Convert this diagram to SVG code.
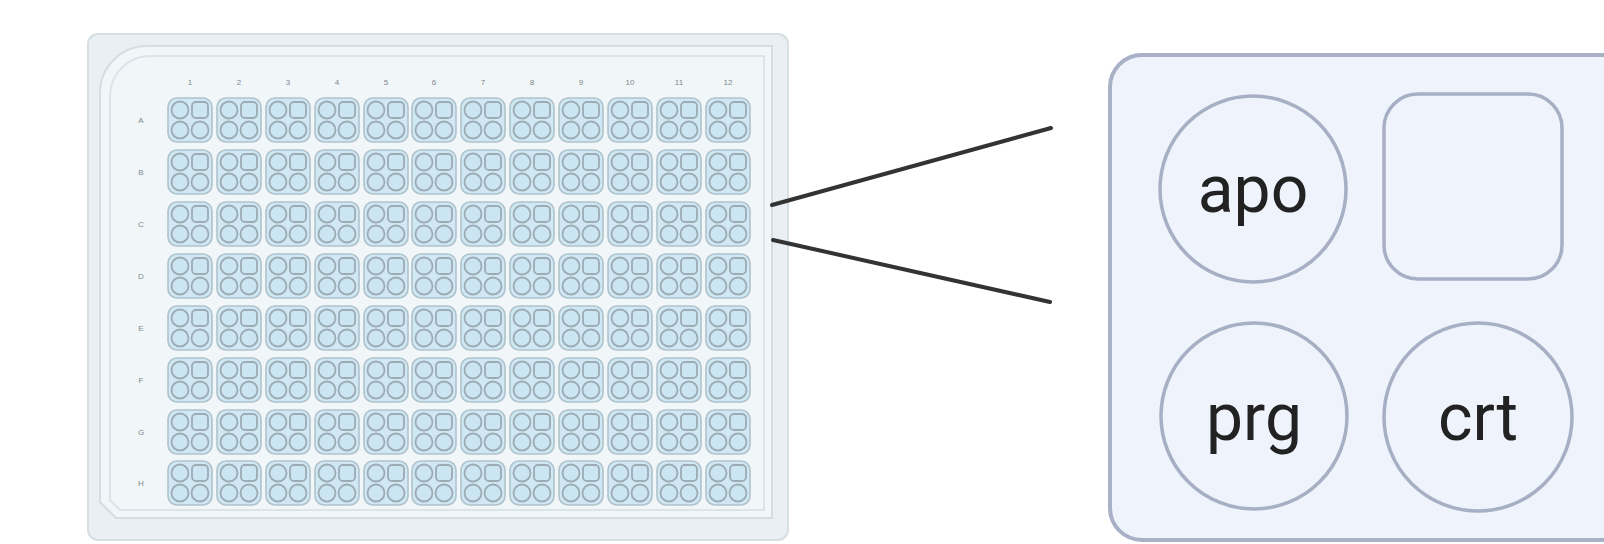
<svg xmlns="http://www.w3.org/2000/svg" xmlns:xlink="http://www.w3.org/1999/xlink" width="1604" height="544" viewBox="0 0 1604 544">
  <style>
    .plate-wall { fill: #e9eff2; stroke: #d6dfe3; stroke-width: 2; }
    .plate-deck { fill: #f1f6f8; stroke: #d3dde2; stroke-width: 2; }
    .plate-inner { fill: none; stroke: #dbe4e8; stroke-width: 2; }
    .well { fill: #cfe8f3; stroke: #b0c2cb; stroke-width: 1.6; }
    .mini { fill: #cbe6f2; stroke: #9cabb4; stroke-width: 1.8; }
    .idx { font-family: "Liberation Sans", Arial, sans-serif; font-size: 8px; fill: #7d878c; text-anchor: middle; }
    .link { fill: none; stroke: #333333; stroke-width: 4; stroke-linecap: round; }
    .panel { fill: #eef3fc; stroke: #a9b1c6; stroke-width: 4; }
    .slot { fill: #eef3fc; stroke: #a6afc3; stroke-width: 3.5; }
    .label { font-family: Roboto, "Liberation Sans", Arial, sans-serif; font-size: 66px; fill: #222222; text-anchor: middle; }
  </style>
  <defs>
    <!-- a single well: rounded cell holding a 2x2 set of compartments -->
    <g id="well">
      <rect class="well" x="-22" y="-22" width="44" height="44" rx="9"/>
      <circle class="mini" cx="-10" cy="-10" r="8.5"/>
      <rect class="mini" x="2" y="-18" width="16" height="16" rx="4"/>
      <circle class="mini" cx="-10" cy="10" r="8.5"/>
      <circle class="mini" cx="10" cy="10" r="8.5"/>
    </g>
  </defs>

  <rect width="1604" height="544" fill="#ffffff"/>

  <!-- 96-well plate -->
  <g id="plate">
    <rect class="plate-wall" x="88" y="34" width="700" height="506" rx="10"/>
    <path class="plate-deck" d="M147 46 H772 V518 H116 L100 502 V93 A47 47 0 0 1 147 46 Z"/>
    <path class="plate-inner" d="M150 56 H764 V510 H120 L110 500 V96 A40 40 0 0 1 150 56 Z"/>
    <g id="col-labels">
      <text class="idx" x="190" y="85">1</text>
      <text class="idx" x="239" y="85">2</text>
      <text class="idx" x="288" y="85">3</text>
      <text class="idx" x="337" y="85">4</text>
      <text class="idx" x="386" y="85">5</text>
      <text class="idx" x="434" y="85">6</text>
      <text class="idx" x="483" y="85">7</text>
      <text class="idx" x="532" y="85">8</text>
      <text class="idx" x="581" y="85">9</text>
      <text class="idx" x="630" y="85">10</text>
      <text class="idx" x="679" y="85">11</text>
      <text class="idx" x="728" y="85">12</text>
    </g>
    <g id="row-labels">
      <text class="idx" x="141" y="123">A</text>
      <text class="idx" x="141" y="175">B</text>
      <text class="idx" x="141" y="227">C</text>
      <text class="idx" x="141" y="279">D</text>
      <text class="idx" x="141" y="331">E</text>
      <text class="idx" x="141" y="383">F</text>
      <text class="idx" x="141" y="435">G</text>
      <text class="idx" x="141" y="486">H</text>
    </g>
    <g id="wells">
      <g id="row-A" transform="translate(0,120)">
        <use xlink:href="#well" x="190"/><use xlink:href="#well" x="239"/><use xlink:href="#well" x="288"/><use xlink:href="#well" x="337"/><use xlink:href="#well" x="386"/><use xlink:href="#well" x="434"/><use xlink:href="#well" x="483"/><use xlink:href="#well" x="532"/><use xlink:href="#well" x="581"/><use xlink:href="#well" x="630"/><use xlink:href="#well" x="679"/><use xlink:href="#well" x="728"/>
      </g>
      <g id="row-B" transform="translate(0,172)">
        <use xlink:href="#well" x="190"/><use xlink:href="#well" x="239"/><use xlink:href="#well" x="288"/><use xlink:href="#well" x="337"/><use xlink:href="#well" x="386"/><use xlink:href="#well" x="434"/><use xlink:href="#well" x="483"/><use xlink:href="#well" x="532"/><use xlink:href="#well" x="581"/><use xlink:href="#well" x="630"/><use xlink:href="#well" x="679"/><use xlink:href="#well" x="728"/>
      </g>
      <g id="row-C" transform="translate(0,224)">
        <use xlink:href="#well" x="190"/><use xlink:href="#well" x="239"/><use xlink:href="#well" x="288"/><use xlink:href="#well" x="337"/><use xlink:href="#well" x="386"/><use xlink:href="#well" x="434"/><use xlink:href="#well" x="483"/><use xlink:href="#well" x="532"/><use xlink:href="#well" x="581"/><use xlink:href="#well" x="630"/><use xlink:href="#well" x="679"/><use xlink:href="#well" x="728"/>
      </g>
      <g id="row-D" transform="translate(0,276)">
        <use xlink:href="#well" x="190"/><use xlink:href="#well" x="239"/><use xlink:href="#well" x="288"/><use xlink:href="#well" x="337"/><use xlink:href="#well" x="386"/><use xlink:href="#well" x="434"/><use xlink:href="#well" x="483"/><use xlink:href="#well" x="532"/><use xlink:href="#well" x="581"/><use xlink:href="#well" x="630"/><use xlink:href="#well" x="679"/><use xlink:href="#well" x="728"/>
      </g>
      <g id="row-E" transform="translate(0,328)">
        <use xlink:href="#well" x="190"/><use xlink:href="#well" x="239"/><use xlink:href="#well" x="288"/><use xlink:href="#well" x="337"/><use xlink:href="#well" x="386"/><use xlink:href="#well" x="434"/><use xlink:href="#well" x="483"/><use xlink:href="#well" x="532"/><use xlink:href="#well" x="581"/><use xlink:href="#well" x="630"/><use xlink:href="#well" x="679"/><use xlink:href="#well" x="728"/>
      </g>
      <g id="row-F" transform="translate(0,380)">
        <use xlink:href="#well" x="190"/><use xlink:href="#well" x="239"/><use xlink:href="#well" x="288"/><use xlink:href="#well" x="337"/><use xlink:href="#well" x="386"/><use xlink:href="#well" x="434"/><use xlink:href="#well" x="483"/><use xlink:href="#well" x="532"/><use xlink:href="#well" x="581"/><use xlink:href="#well" x="630"/><use xlink:href="#well" x="679"/><use xlink:href="#well" x="728"/>
      </g>
      <g id="row-G" transform="translate(0,432)">
        <use xlink:href="#well" x="190"/><use xlink:href="#well" x="239"/><use xlink:href="#well" x="288"/><use xlink:href="#well" x="337"/><use xlink:href="#well" x="386"/><use xlink:href="#well" x="434"/><use xlink:href="#well" x="483"/><use xlink:href="#well" x="532"/><use xlink:href="#well" x="581"/><use xlink:href="#well" x="630"/><use xlink:href="#well" x="679"/><use xlink:href="#well" x="728"/>
      </g>
      <g id="row-H" transform="translate(0,483)">
        <use xlink:href="#well" x="190"/><use xlink:href="#well" x="239"/><use xlink:href="#well" x="288"/><use xlink:href="#well" x="337"/><use xlink:href="#well" x="386"/><use xlink:href="#well" x="434"/><use xlink:href="#well" x="483"/><use xlink:href="#well" x="532"/><use xlink:href="#well" x="581"/><use xlink:href="#well" x="630"/><use xlink:href="#well" x="679"/><use xlink:href="#well" x="728"/>
      </g>
    </g>
  </g>

  <!-- zoom lines from row C to the enlarged well -->
  <g id="connectors">
    <line class="link" x1="772" y1="205" x2="1051" y2="128"/>
    <line class="link" x1="773" y1="240" x2="1050" y2="302"/>
  </g>

  <!-- enlarged single well -->
  <g id="well-detail">
    <rect class="panel" x="1110" y="55" width="540" height="485" rx="32"/>
    <g id="apo">
      <circle class="slot" cx="1253" cy="189" r="93"/>
      <text class="label" x="1253" y="212">apo</text>
    </g>
    <g id="empty">
      <rect class="slot" x="1384" y="94" width="178" height="185" rx="34"/>
    </g>
    <g id="prg">
      <circle class="slot" cx="1254" cy="416" r="93"/>
      <text class="label" x="1254" y="440">prg</text>
    </g>
    <g id="crt">
      <circle class="slot" cx="1478" cy="417" r="94"/>
      <text class="label" x="1478" y="440">crt</text>
    </g>
  </g>
</svg>
